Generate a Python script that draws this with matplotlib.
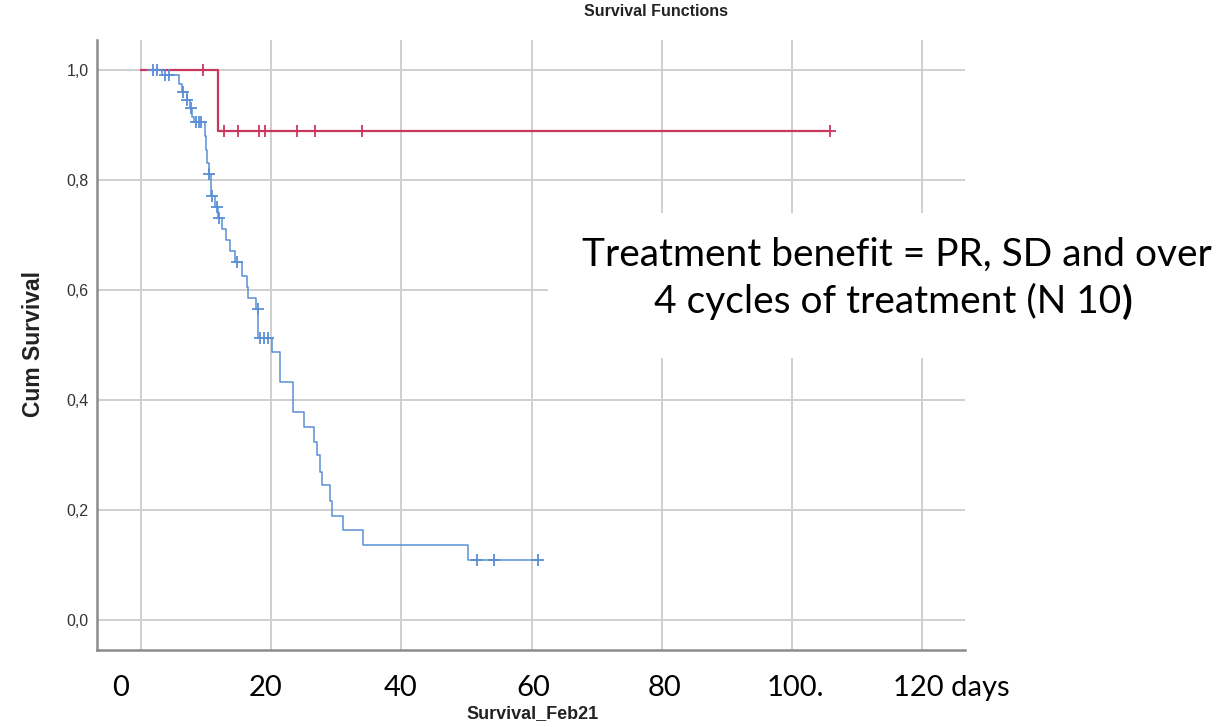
import numpy as np
import matplotlib
matplotlib.use("Agg")
import matplotlib.pyplot as plt
from matplotlib.patches import Rectangle

# ---------------- data ----------------
blue_times = [0, 3.2, 5.8, 6.3, 7.0, 7.5, 7.8, 8.2, 9.8, 10.0, 10.15, 10.45, 10.75,
              11.4, 11.85, 12.45, 13.05, 13.7, 14.45, 15.5, 16.3, 16.45, 17.65, 18.05,
              20.1, 21.35, 23.35, 25.05, 26.55, 27.05, 27.5, 27.8, 29.05, 29.35, 31.05,
              34.1, 50.2]
blue_surv = [1.0, 0.99, 0.975, 0.96, 0.945, 0.93, 0.915, 0.905, 0.88, 0.855, 0.83, 0.81, 0.77,
             0.75, 0.73, 0.71, 0.69, 0.67, 0.65, 0.625, 0.605, 0.585, 0.565, 0.513,
             0.487, 0.433, 0.378, 0.351, 0.324, 0.30, 0.27, 0.245, 0.216, 0.19, 0.164,
             0.136, 0.109]
blue_end = 61.0
blue_censored = [1.8, 2.5, 3.7, 4.3, 6.5, 7.1, 7.7, 8.4, 8.9, 9.2, 10.5, 10.9, 11.7, 11.95,
                 14.75, 17.95, 18.3, 18.9, 19.5, 51.7, 54.2, 61.0]

red_times = [0, 11.9]
red_surv = [1.0, 0.889]
red_end = 105.8
red_censored = [9.5, 12.8, 14.9, 18.2, 19.1, 23.9, 26.8, 34.0, 105.8]

x_grid = [0, 20, 40, 60, 80, 100, 120]
y_ticks = [0.0, 0.2, 0.4, 0.6, 0.8, 1.0]
y_ticklabels = ["0,0", "0,2", "0,4", "0,6", "0,8", "1,0"]
x_labels = ["0", "20", "40", "60", "80", "100.", "120 days"]

title = "Survival Functions"
xlabel = "Survival_Feb21"
ylabel = "Cum Survival"
note_line1 = "Treatment benefit = PR, SD and over"
note_line2 = "4 cycles of treatment (N 10"
note_paren = ")"

# ---------------- layout ----------------
W, H = 1227, 727
fig = plt.figure(figsize=(W / 100, H / 100), dpi=100)
fig.patch.set_facecolor("white")
ax = fig.add_axes([97 / W, 1 - 650 / H, (965 - 97) / W, (650 - 40) / H])
ax.set_xlim(-6.76, 126.6)
ax.set_ylim(-0.0545, 1.0545)

grid_col = "#cfcfcf"
for gx in x_grid:
    ax.axvline(gx, color=grid_col, lw=1.4, zorder=0)
for gy in y_ticks:
    ax.axhline(gy, color=grid_col, lw=1.4, zorder=0)

for s in ["top", "right"]:
    ax.spines[s].set_visible(False)
for s in ["left", "bottom"]:
    ax.spines[s].set_color("#8c8c8c")
    ax.spines[s].set_linewidth(1.8)

ax.set_xticks(x_grid)
ax.set_xticklabels([])
ax.tick_params(axis="x", length=0)
ax.set_yticks(y_ticks)
ax.set_yticklabels(y_ticklabels, fontsize=11.5, color="#333333", family="Liberation Sans")
ax.tick_params(axis="y", length=0, pad=6)


def km(times, surv, end, censored, color, lw, ms):
    t = list(times) + [end]
    s = list(surv) + [surv[-1]]
    ax.step(t, s, where="post", color=color, lw=lw, zorder=3)
    tt = np.array(times)
    idx = np.searchsorted(tt, np.array(censored), side="right") - 1
    cy = np.array(surv)[idx]
    ax.plot(censored, cy, linestyle="none", marker="+", color=color,
            markersize=ms, markeredgewidth=1.3, zorder=4)


km(blue_times, blue_surv, blue_end, blue_censored, "#5a8fd6", 1.1, 8)
km(red_times, red_surv, red_end, red_censored, "#c8385c", 1.6, 8)

# titles
fig.text(656 / W, 1 - 12 / H, title, ha="center", va="center", fontsize=11.5,
         fontweight="bold", color="#222222", family="Liberation Sans")
fig.text(533 / W, 1 - 714 / H, xlabel, ha="center", va="center", fontsize=13,
         fontweight="bold", color="#222222", family="Liberation Sans")
fig.text(34 / W, 1 - 344 / H, ylabel, ha="center", va="center", rotation=90,
         fontsize=16.5, fontweight="bold", color="#222222", family="Liberation Sans")

# overlaid x labels
label_x = [-3.2, 19.2, 39.9, 60.2, 80.5, 100.6, 115.5]
label_ha = ["center"] * 6 + ["left"]
trans = ax.get_xaxis_transform()
for lx, lab, ha in zip(label_x, x_labels, label_ha):
    ax.text(lx, (650 - 688) / 610, lab, transform=trans, ha=ha, va="center",
            fontsize=21, family="Lato", color="black", clip_on=False)

# white box behind annotation
fig.add_artist(Rectangle((548 / W, 1 - 358 / H), (W - 548) / W, (358 - 213) / H,
                         transform=fig.transFigure, facecolor="white",
                         edgecolor="none", zorder=5))
fig.text(897 / W, 1 - 255 / H, note_line1, ha="center", va="center", fontsize=28,
         family="Lato", color="black", zorder=6)
t2 = fig.text(888 / W, 1 - 301 / H, note_line2, ha="center", va="center", fontsize=28,
              family="Lato", color="black", zorder=6)
fig.add_artist(matplotlib.text.Annotation(note_paren, xy=(1, 0), xycoords=t2,
                                          va="bottom", ha="left", fontsize=28,
                                          family="Lato", fontweight="bold",
                                          color="black", zorder=6))

fig.savefig("out.png", dpi=100, facecolor="white")
